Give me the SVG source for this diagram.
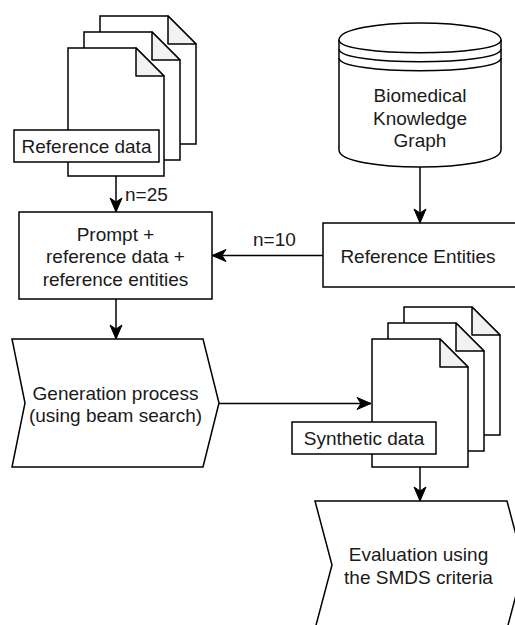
<svg xmlns="http://www.w3.org/2000/svg" width="515" height="625" viewBox="0 0 515 625">
<style>
.s{fill:#fff;stroke:#000;stroke-width:1.5}
.f{fill:#f2f2f2;stroke:#000;stroke-width:1.5;stroke-linejoin:round}
.n{fill:none;stroke:#000;stroke-width:1.5}
.t{font-family:"Liberation Sans",Arial,sans-serif;font-size:19px;fill:#1a1a1a;text-anchor:middle}
.l{font-family:"Liberation Sans",Arial,sans-serif;font-size:19px;fill:#1a1a1a}
.c{fill:none;stroke:#000;stroke-width:1.5}
</style>
<defs>
<marker id="ah" markerUnits="userSpaceOnUse" markerWidth="16" markerHeight="14" refX="14" refY="7" orient="auto" overflow="visible">
<path d="M0,1 L14,7 L0,13 L4,7 Z" fill="#000" stroke="#000" stroke-width="1"/>
</marker>
</defs>

<g id="reference-data">
<path class="s" d="M100,16 H168 L196,44 V144 H100 Z"/>
<path class="f" d="M168,16 V44 H196 Z"/>
<path class="s" d="M84,32 H152 L180,60 V160 H84 Z"/>
<path class="f" d="M152,32 V60 H180 Z"/>
<path class="s" d="M68,48 H136 L164,76 V176 H68 Z"/>
<path class="f" d="M136,48 V76 H164 Z"/>
<rect class="s" x="14" y="130" width="145" height="32"/>
<text class="t" x="86.5" y="153">Reference data</text>
</g>

<g id="knowledge-graph">
<path class="s" d="M339,40 C339,17.3 501,17.3 501,40 V150 C501,172.7 339,172.7 339,150 Z"/>
<path class="n" d="M339,40 C339,57 501,57 501,40"/>
<path class="n" d="M339,49 C339,66 501,66 501,49"/>
<path class="n" d="M339,58 C339,75 501,75 501,58"/>
<text class="t" x="420" y="102">Biomedical</text>
<text class="t" x="420" y="124.5">Knowledge</text>
<text class="t" x="420" y="147">Graph</text>
</g>

<g id="prompt">
<rect class="s" x="19" y="212" width="193" height="87"/>
<text class="t" x="115.5" y="240.5">Prompt +</text>
<text class="t" x="115.5" y="263">reference data +</text>
<text class="t" x="115.5" y="285.5">reference entities</text>
</g>

<g id="reference-entities">
<rect class="s" x="323" y="223" width="200" height="64"/>
<text class="t" x="418" y="262.5">Reference Entities</text>
</g>

<g id="generation">
<path class="s" d="M12,339 H203 L219,403 L203,467 H12 L25,403 Z"/>
<text class="t" x="115.5" y="400">Generation process</text>
<text class="t" x="115.5" y="422">(using beam search)</text>
</g>

<g id="synthetic-data">
<path class="s" d="M404,307 H472 L500,335 V435 H404 Z"/>
<path class="f" d="M472,307 V335 H500 Z"/>
<path class="s" d="M388,323 H456 L484,351 V451 H388 Z"/>
<path class="f" d="M456,323 V351 H484 Z"/>
<path class="s" d="M372,339 H440 L468,367 V467 H372 Z"/>
<path class="f" d="M440,339 V367 H468 Z"/>
<rect class="s" x="292" y="422" width="144" height="32"/>
<text class="t" x="364" y="445">Synthetic data</text>
</g>

<g id="evaluation">
<path class="s" d="M315,501 H507 L524,565 L507,629 H315 L332,565 Z"/>
<text class="t" x="418.5" y="561">Evaluation using</text>
<text class="t" x="418.5" y="583.5">the SMDS criteria</text>
</g>

<g id="connectors">
<line class="c" x1="116" y1="176" x2="116" y2="212" marker-end="url(#ah)"/>
<text class="l" x="125" y="201">n=25</text>
<line class="c" x1="420" y1="167" x2="420" y2="223" marker-end="url(#ah)"/>
<line class="c" x1="323" y1="255.5" x2="212" y2="255.5" marker-end="url(#ah)"/>
<text class="l" x="253" y="246">n=10</text>
<line class="c" x1="116" y1="299" x2="116" y2="339" marker-end="url(#ah)"/>
<line class="c" x1="219" y1="403.5" x2="371" y2="403.5" marker-end="url(#ah)"/>
<line class="c" x1="420" y1="467" x2="420" y2="501" marker-end="url(#ah)"/>
</g>
</svg>
